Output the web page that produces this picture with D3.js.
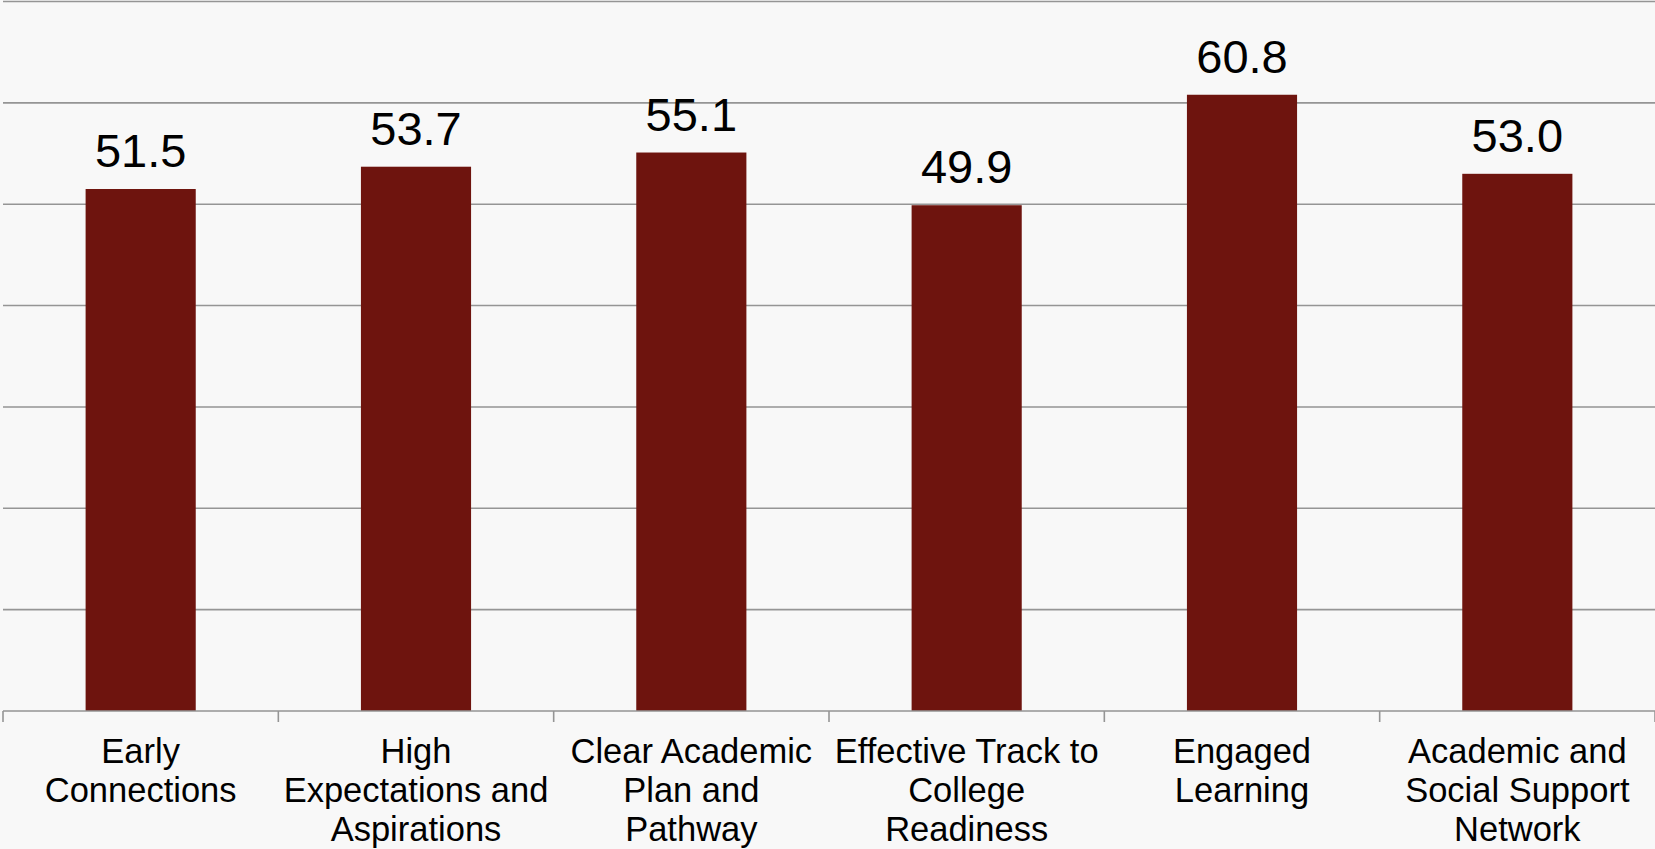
<!DOCTYPE html>
<html>
<head>
<meta charset="utf-8">
<script src="https://cdn.jsdelivr.net/npm/d3@7"></script>
<style>
  html, body { margin: 0; padding: 0; background: #f8f8f8; }
  svg { display: block; }
  text { font-family: "Liberation Sans", Arial, sans-serif; fill: #000; }
</style>
</head>
<body>
<svg id="chart" width="1655" height="849"></svg>
<script>
// Category labels, split into the lines they wrap to
const categories = [
  ["Early", "Connections"],
  ["High", "Expectations and", "Aspirations"],
  ["Clear Academic", "Plan and", "Pathway"],
  ["Effective Track to", "College", "Readiness"],
  ["Engaged", "Learning"],
  ["Academic and", "Social Support", "Network"]
];
const values = [51.5, 53.7, 55.1, 49.9, 60.8, 53.0];
const gridTicks = [0, 10, 20, 30, 40, 50, 60, 70];

const W = 1655, H = 849;
const plotLeft = 3, plotRight = 1655, plotTop = 1.5, plotBottom = 711;

const svg = d3.select("#chart");
svg.append("rect").attr("width", W).attr("height", H).attr("fill", "#f8f8f8");

const keys = categories.map((d, i) => i);
const x = d3.scaleBand().domain(keys).range([plotLeft, plotRight]).padding(0);
const y = d3.scaleLinear().domain([0, 70]).range([plotBottom, plotTop]);

// Horizontal gridlines
svg.append("g")
  .selectAll("line")
  .data(gridTicks.filter(t => t > 0))
  .join("line")
  .attr("x1", plotLeft).attr("x2", plotRight)
  .attr("y1", d => y(d)).attr("y2", d => y(d))
  .attr("stroke", "#959595")
  .attr("stroke-width", 1.6);

// Bars take 40% of each category slot, centred
const barW = x.bandwidth() * 0.4;
svg.append("g")
  .selectAll("rect")
  .data(values)
  .join("rect")
  .attr("x", (d, i) => x(i) + (x.bandwidth() - barW) / 2)
  .attr("y", d => y(d))
  .attr("width", barW)
  .attr("height", d => y(0) - y(d))
  .attr("fill", "#6e140e");

// Value labels above the bars
svg.append("g")
  .selectAll("text")
  .data(values)
  .join("text")
  .attr("x", (d, i) => x(i) + x.bandwidth() / 2)
  .attr("y", d => y(d) - 22)
  .attr("text-anchor", "middle")
  .attr("font-size", 47)
  .text(d => d.toFixed(1));

// Category axis with ticks between slots
const axisG = svg.append("g");
axisG.append("line")
  .attr("x1", plotLeft).attr("x2", plotRight)
  .attr("y1", plotBottom).attr("y2", plotBottom)
  .attr("stroke", "#959595").attr("stroke-width", 1.6);
const boundaries = keys.map(i => x(i)).concat([plotRight]);
axisG.selectAll("line.tick")
  .data(boundaries)
  .join("line")
  .attr("class", "tick")
  .attr("x1", d => d).attr("x2", d => d)
  .attr("y1", plotBottom).attr("y2", plotBottom + 11)
  .attr("stroke", "#959595").attr("stroke-width", 1.6);

const labels = svg.append("g")
  .selectAll("text")
  .data(categories)
  .join("text")
  .attr("x", (d, i) => x(i) + x.bandwidth() / 2)
  .attr("y", 763)
  .attr("text-anchor", "middle")
  .attr("font-size", 34.5);
labels.each(function(lines) {
  const t = d3.select(this);
  const cx = t.attr("x");
  lines.forEach((ln, j) => {
    t.append("tspan").attr("x", cx).attr("dy", j === 0 ? 0 : 38.8).text(ln);
  });
});
</script>
</body>
</html>
